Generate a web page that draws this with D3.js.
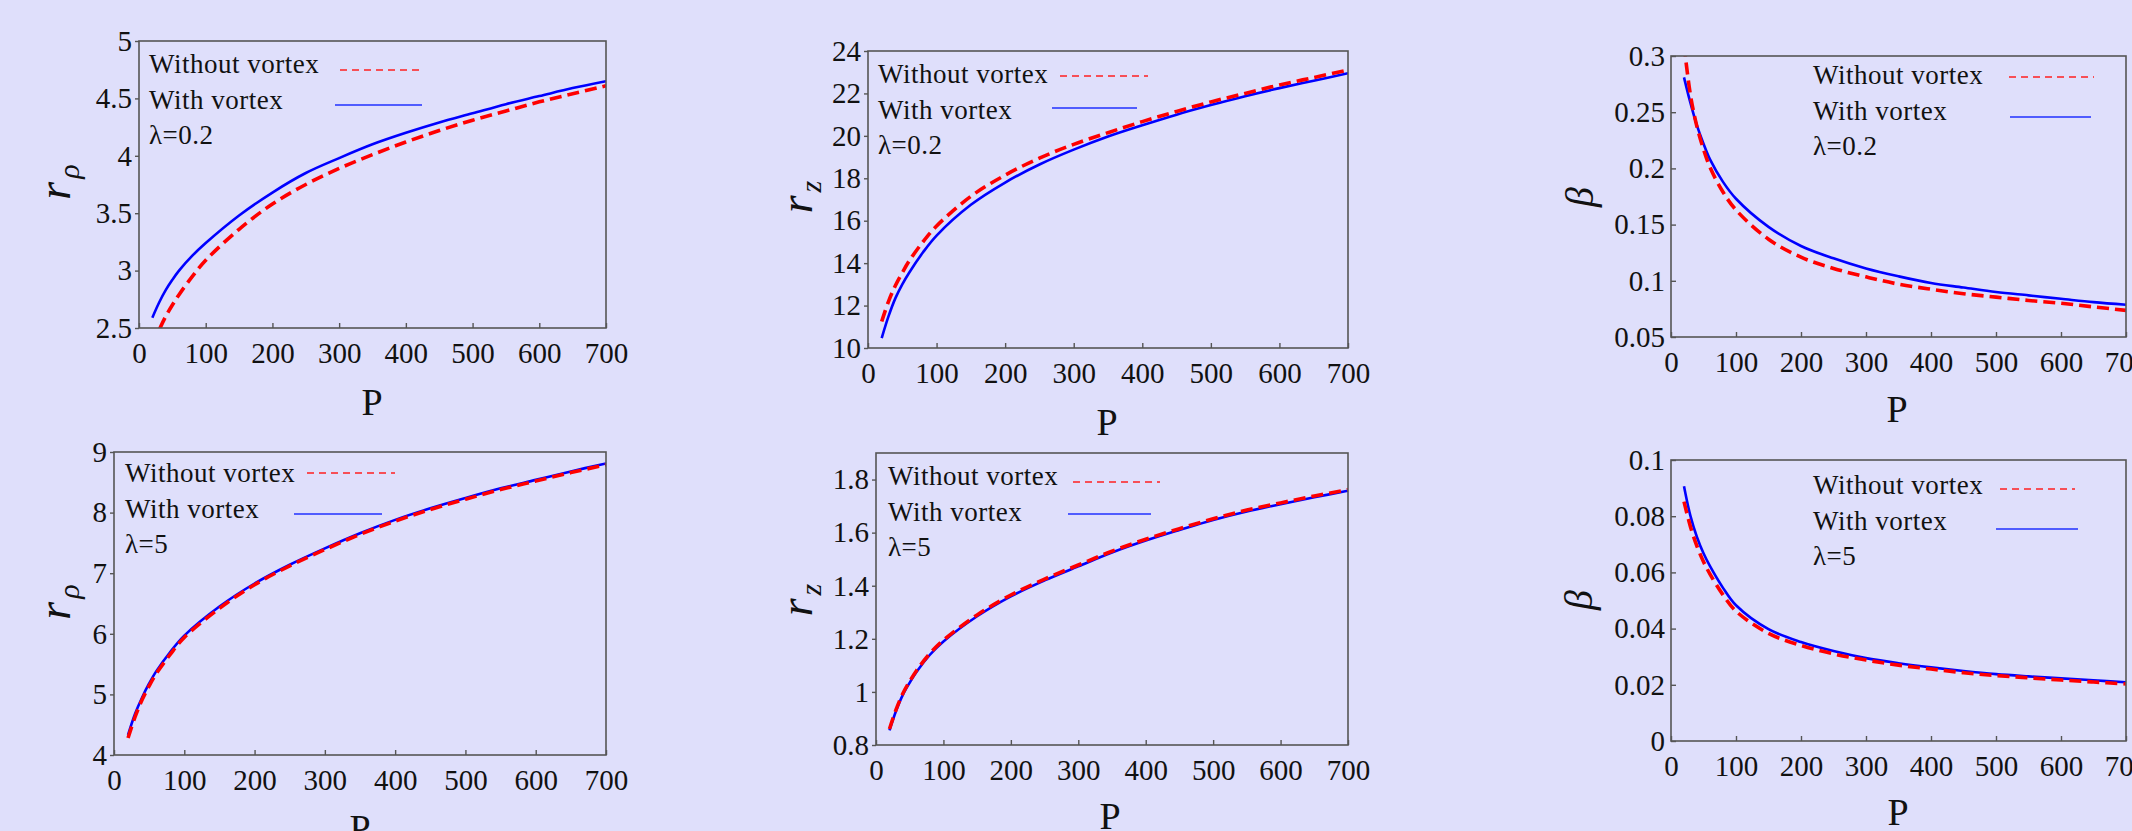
<!DOCTYPE html>
<html>
<head>
<meta charset="utf-8">
<script src="https://cdn.jsdelivr.net/npm/d3@7/dist/d3.min.js"></script>
<style>
  html, body { margin: 0; padding: 0; background: #dfdffb; }
  svg { display: block; }
  text { font-family: "Liberation Serif", "Times New Roman", serif; }
  .tick line { stroke: #555; stroke-width: 1.4; }
</style>
</head>
<body>
<svg id="fig" width="2132" height="831"></svg>
<script>
var SERIF = "'Liberation Serif', 'Times New Roman', serif";

// P values shared by every curve
var pValues = [20, 30, 40, 50, 60, 80, 100, 150, 200, 250, 300, 350, 400, 450, 500, 550, 600, 650, 700];

// lambda = 0.2
var rhoWithout02 = [2.35, 2.48, 2.60, 2.70, 2.79, 2.95, 3.09, 3.36, 3.58, 3.75, 3.89, 4.01, 4.12, 4.22, 4.31, 4.39, 4.47, 4.54, 4.61];
var rhoWith02    = [2.59, 2.72, 2.83, 2.92, 3.00, 3.13, 3.24, 3.48, 3.68, 3.85, 3.98, 4.10, 4.20, 4.29, 4.37, 4.45, 4.52, 4.59, 4.65];
var zWithout02   = [11.25, 12.2, 12.95, 13.55, 14.1, 15.0, 15.75, 17.15, 18.15, 18.95, 19.6, 20.15, 20.67, 21.15, 21.6, 22.0, 22.4, 22.75, 23.1];
var zWith02      = [10.47, 11.5, 12.35, 13.0, 13.55, 14.5, 15.3, 16.75, 17.8, 18.65, 19.35, 19.97, 20.5, 21.0, 21.45, 21.87, 22.25, 22.6, 22.95];
var betaWithout02 = [0.31, 0.265, 0.237, 0.217, 0.201, 0.179, 0.163, 0.137, 0.121, 0.111, 0.1035, 0.097, 0.0925, 0.0885, 0.0855, 0.0825, 0.080, 0.0768, 0.0737];
var betaWith02    = [0.281, 0.258, 0.238, 0.222, 0.208, 0.188, 0.173, 0.148, 0.131, 0.120, 0.111, 0.104, 0.098, 0.094, 0.090, 0.087, 0.084, 0.081, 0.0787];

// lambda = 5
var rhoWithout5 = [4.28, 4.63, 4.91, 5.14, 5.34, 5.66, 5.94, 6.42, 6.81, 7.12, 7.39, 7.64, 7.86, 8.05, 8.22, 8.38, 8.52, 8.66, 8.79];
var rhoWith5    = [4.33, 4.68, 4.95, 5.18, 5.38, 5.70, 5.97, 6.45, 6.83, 7.14, 7.41, 7.66, 7.88, 8.07, 8.24, 8.40, 8.54, 8.68, 8.81];
var zWithout5   = [0.86, 0.935, 0.995, 1.04, 1.08, 1.145, 1.195, 1.29, 1.365, 1.425, 1.478, 1.53, 1.575, 1.615, 1.652, 1.685, 1.712, 1.738, 1.762];
var zWith5      = [0.855, 0.93, 0.99, 1.035, 1.075, 1.14, 1.19, 1.285, 1.36, 1.42, 1.473, 1.525, 1.57, 1.61, 1.648, 1.68, 1.707, 1.733, 1.758];
var betaWithout5 = [0.0852, 0.0762, 0.0693, 0.0638, 0.0594, 0.0520, 0.0462, 0.0383, 0.0340, 0.0310, 0.0288, 0.0270, 0.0256, 0.0243, 0.0233, 0.0225, 0.0217, 0.0210, 0.0203];
var betaWith5    = [0.0907, 0.0800, 0.0725, 0.0668, 0.0622, 0.0545, 0.0483, 0.0398, 0.0352, 0.0320, 0.0295, 0.0277, 0.0262, 0.0249, 0.0238, 0.0230, 0.0223, 0.0216, 0.0209];

// tick labels
var xTicks = [0, 100, 200, 300, 400, 500, 600, 700];
var rhoTicks02 = [2.5, 3, 3.5, 4, 4.5, 5];
var zTicks02 = [10, 12, 14, 16, 18, 20, 22, 24];
var betaTicks02 = [0.05, 0.1, 0.15, 0.2, 0.25, 0.3];
var rhoTicks5 = [4, 5, 6, 7, 8, 9];
var zTicks5 = [0.8, 1, 1.2, 1.4, 1.6, 1.8];
var betaTicks5 = [0, 0.02, 0.04, 0.06, 0.08, 0.1];

var legendNames = ["Without vortex", "With vortex"];

var panels = [
  {box: [139, 606, 41, 328], y: [2.5, 5], ticks: rhoTicks02, red: rhoWithout02, blue: rhoWith02, lab: "rho", lam: "λ=0.2",
   ylab: [65, 182], xlab: [372, 415], leg: {x: 149, y: 73, dash: [340, 423, 70], solid: [335, 422, 105]}, yTickIn: false},
  {box: [868, 1348, 51, 348], y: [10, 24], ticks: zTicks02, red: zWithout02, blue: zWith02, lab: "z", lam: "λ=0.2",
   ylab: [807, 197], xlab: [1107, 435], leg: {x: 878, y: 83, dash: [1060, 1148, 76], solid: [1052, 1137, 108]}, yTickIn: false},
  {box: [1671, 2126, 56, 337], y: [0.05, 0.3], ticks: betaTicks02, red: betaWithout02, blue: betaWith02, lab: "beta", lam: "λ=0.2",
   ylab: [1581, 197], xlab: [1897, 422], leg: {x: 1813, y: 84, dash: [2009, 2094, 77], solid: [2010, 2091, 117]}, yTickIn: true},
  {box: [114, 606, 452, 755], y: [4, 9], ticks: rhoTicks5, red: rhoWithout5, blue: rhoWith5, lab: "rho", lam: "λ=5",
   ylab: [65, 602], xlab: [360, 841], leg: {x: 125, y: 482, dash: [307, 395, 473], solid: [294, 382, 514]}, yTickIn: false},
  {box: [876, 1348, 453, 745], y: [0.8, 1.9], ticks: zTicks5, red: zWithout5, blue: zWith5, lab: "z", lam: "λ=5",
   ylab: [807, 600], xlab: [1110, 829], leg: {x: 888, y: 485, dash: [1073, 1160, 482], solid: [1068, 1151, 514]}, yTickIn: false},
  {box: [1671, 2126, 460, 741], y: [0, 0.1], ticks: betaTicks5, red: betaWithout5, blue: betaWith5, lab: "beta", lam: "λ=5",
   ylab: [1580, 600], xlab: [1898, 825], leg: {x: 1813, y: 494, dash: [2000, 2075, 489], solid: [1996, 2078, 529]}, yTickIn: true}
];

var svg = d3.select("#fig");
svg.append("rect").attr("width", 2132).attr("height", 831).attr("fill", "#dfdffb");

function styleAxis(a) {
  a.attr("font-family", SERIF).attr("font-size", 29);
  a.select(".domain").remove();
  a.selectAll(".tick text").attr("fill", "#111");
}

panels.forEach(function(p, i) {
  var x = d3.scaleLinear().domain([0, 700]).range([p.box[0], p.box[1]]);
  var y = d3.scaleLinear().domain(p.y).range([p.box[3], p.box[2]]);

  var clipId = "clip" + i;
  svg.append("clipPath").attr("id", clipId)
    .append("rect")
      .attr("x", p.box[0]).attr("y", p.box[2])
      .attr("width", p.box[1] - p.box[0]).attr("height", p.box[3] - p.box[2]);

  var line = function(vals) {
    return d3.line()
      .x(function(d, j) { return x(pValues[j]); })
      .y(function(d) { return y(d); })
      .curve(d3.curveCatmullRom.alpha(0.5))(vals);
  };

  var g = svg.append("g").attr("clip-path", "url(#" + clipId + ")");
  g.append("path").attr("d", line(p.blue))
    .attr("fill", "none").attr("stroke", "#0000ff").attr("stroke-width", 2.6);
  g.append("path").attr("d", line(p.red))
    .attr("fill", "none").attr("stroke", "#ff0000").attr("stroke-width", 3.6)
    .attr("stroke-dasharray", "12,6");

  // axes
  svg.append("g")
      .attr("transform", "translate(0," + p.box[3] + ")")
      .call(d3.axisBottom(x).tickValues(xTicks).tickSize(-5).tickSizeOuter(0).tickPadding(14).tickFormat(d3.format("~g")))
      .call(styleAxis);

  var yAxis = d3.axisLeft(y).tickValues(p.ticks).tickSizeOuter(0).tickFormat(d3.format("~g"));
  if (p.yTickIn) yAxis.tickSize(-5).tickPadding(6);
  else yAxis.tickSize(4).tickPadding(3);
  svg.append("g")
      .attr("transform", "translate(" + p.box[0] + ",0)")
      .call(yAxis)
      .call(styleAxis);

  // frame
  svg.append("rect")
    .attr("x", p.box[0]).attr("y", p.box[2])
    .attr("width", p.box[1] - p.box[0]).attr("height", p.box[3] - p.box[2])
    .attr("fill", "none").attr("stroke", "#555").attr("stroke-width", 1.6);

  // x label
  svg.append("text")
    .attr("x", p.xlab[0]).attr("y", p.xlab[1])
    .attr("text-anchor", "middle").attr("font-family", SERIF).attr("font-size", 38).attr("fill", "#111")
    .text("P");

  // y label
  var yl = svg.append("text")
    .attr("transform", "translate(" + p.ylab[0] + "," + p.ylab[1] + ") rotate(-90)")
    .attr("text-anchor", "middle").attr("dy", "0.3em").attr("font-family", SERIF).attr("fill", "#111");
  if (p.lab === "beta") {
    yl.attr("font-size", 40).attr("font-style", "italic").text("β");
  } else {
    yl.append("tspan").attr("font-size", 46).attr("font-style", "italic").text("r");
    yl.append("tspan").attr("font-size", 30).attr("font-style", "italic").attr("dy", "0.3em").attr("dx", 3)
      .text(p.lab === "rho" ? "ρ" : "z");
  }

  // legend
  var lg = svg.append("g").attr("font-family", SERIF).attr("font-size", 27).attr("fill", "#111").attr("letter-spacing", 0.5);
  legendNames.concat([p.lam]).forEach(function(t, k) {
    lg.append("text").attr("x", p.leg.x).attr("y", p.leg.y + k * 35.5).text(t);
  });
  lg.append("line")
    .attr("x1", p.leg.dash[0]).attr("x2", p.leg.dash[1]).attr("y1", p.leg.dash[2]).attr("y2", p.leg.dash[2])
    .attr("stroke", "#ff2020").attr("stroke-width", 1.6).attr("stroke-dasharray", "7,5");
  lg.append("line")
    .attr("x1", p.leg.solid[0]).attr("x2", p.leg.solid[1]).attr("y1", p.leg.solid[2]).attr("y2", p.leg.solid[2])
    .attr("stroke", "#2030ff").attr("stroke-width", 1.6);
});
</script>
</body>
</html>
